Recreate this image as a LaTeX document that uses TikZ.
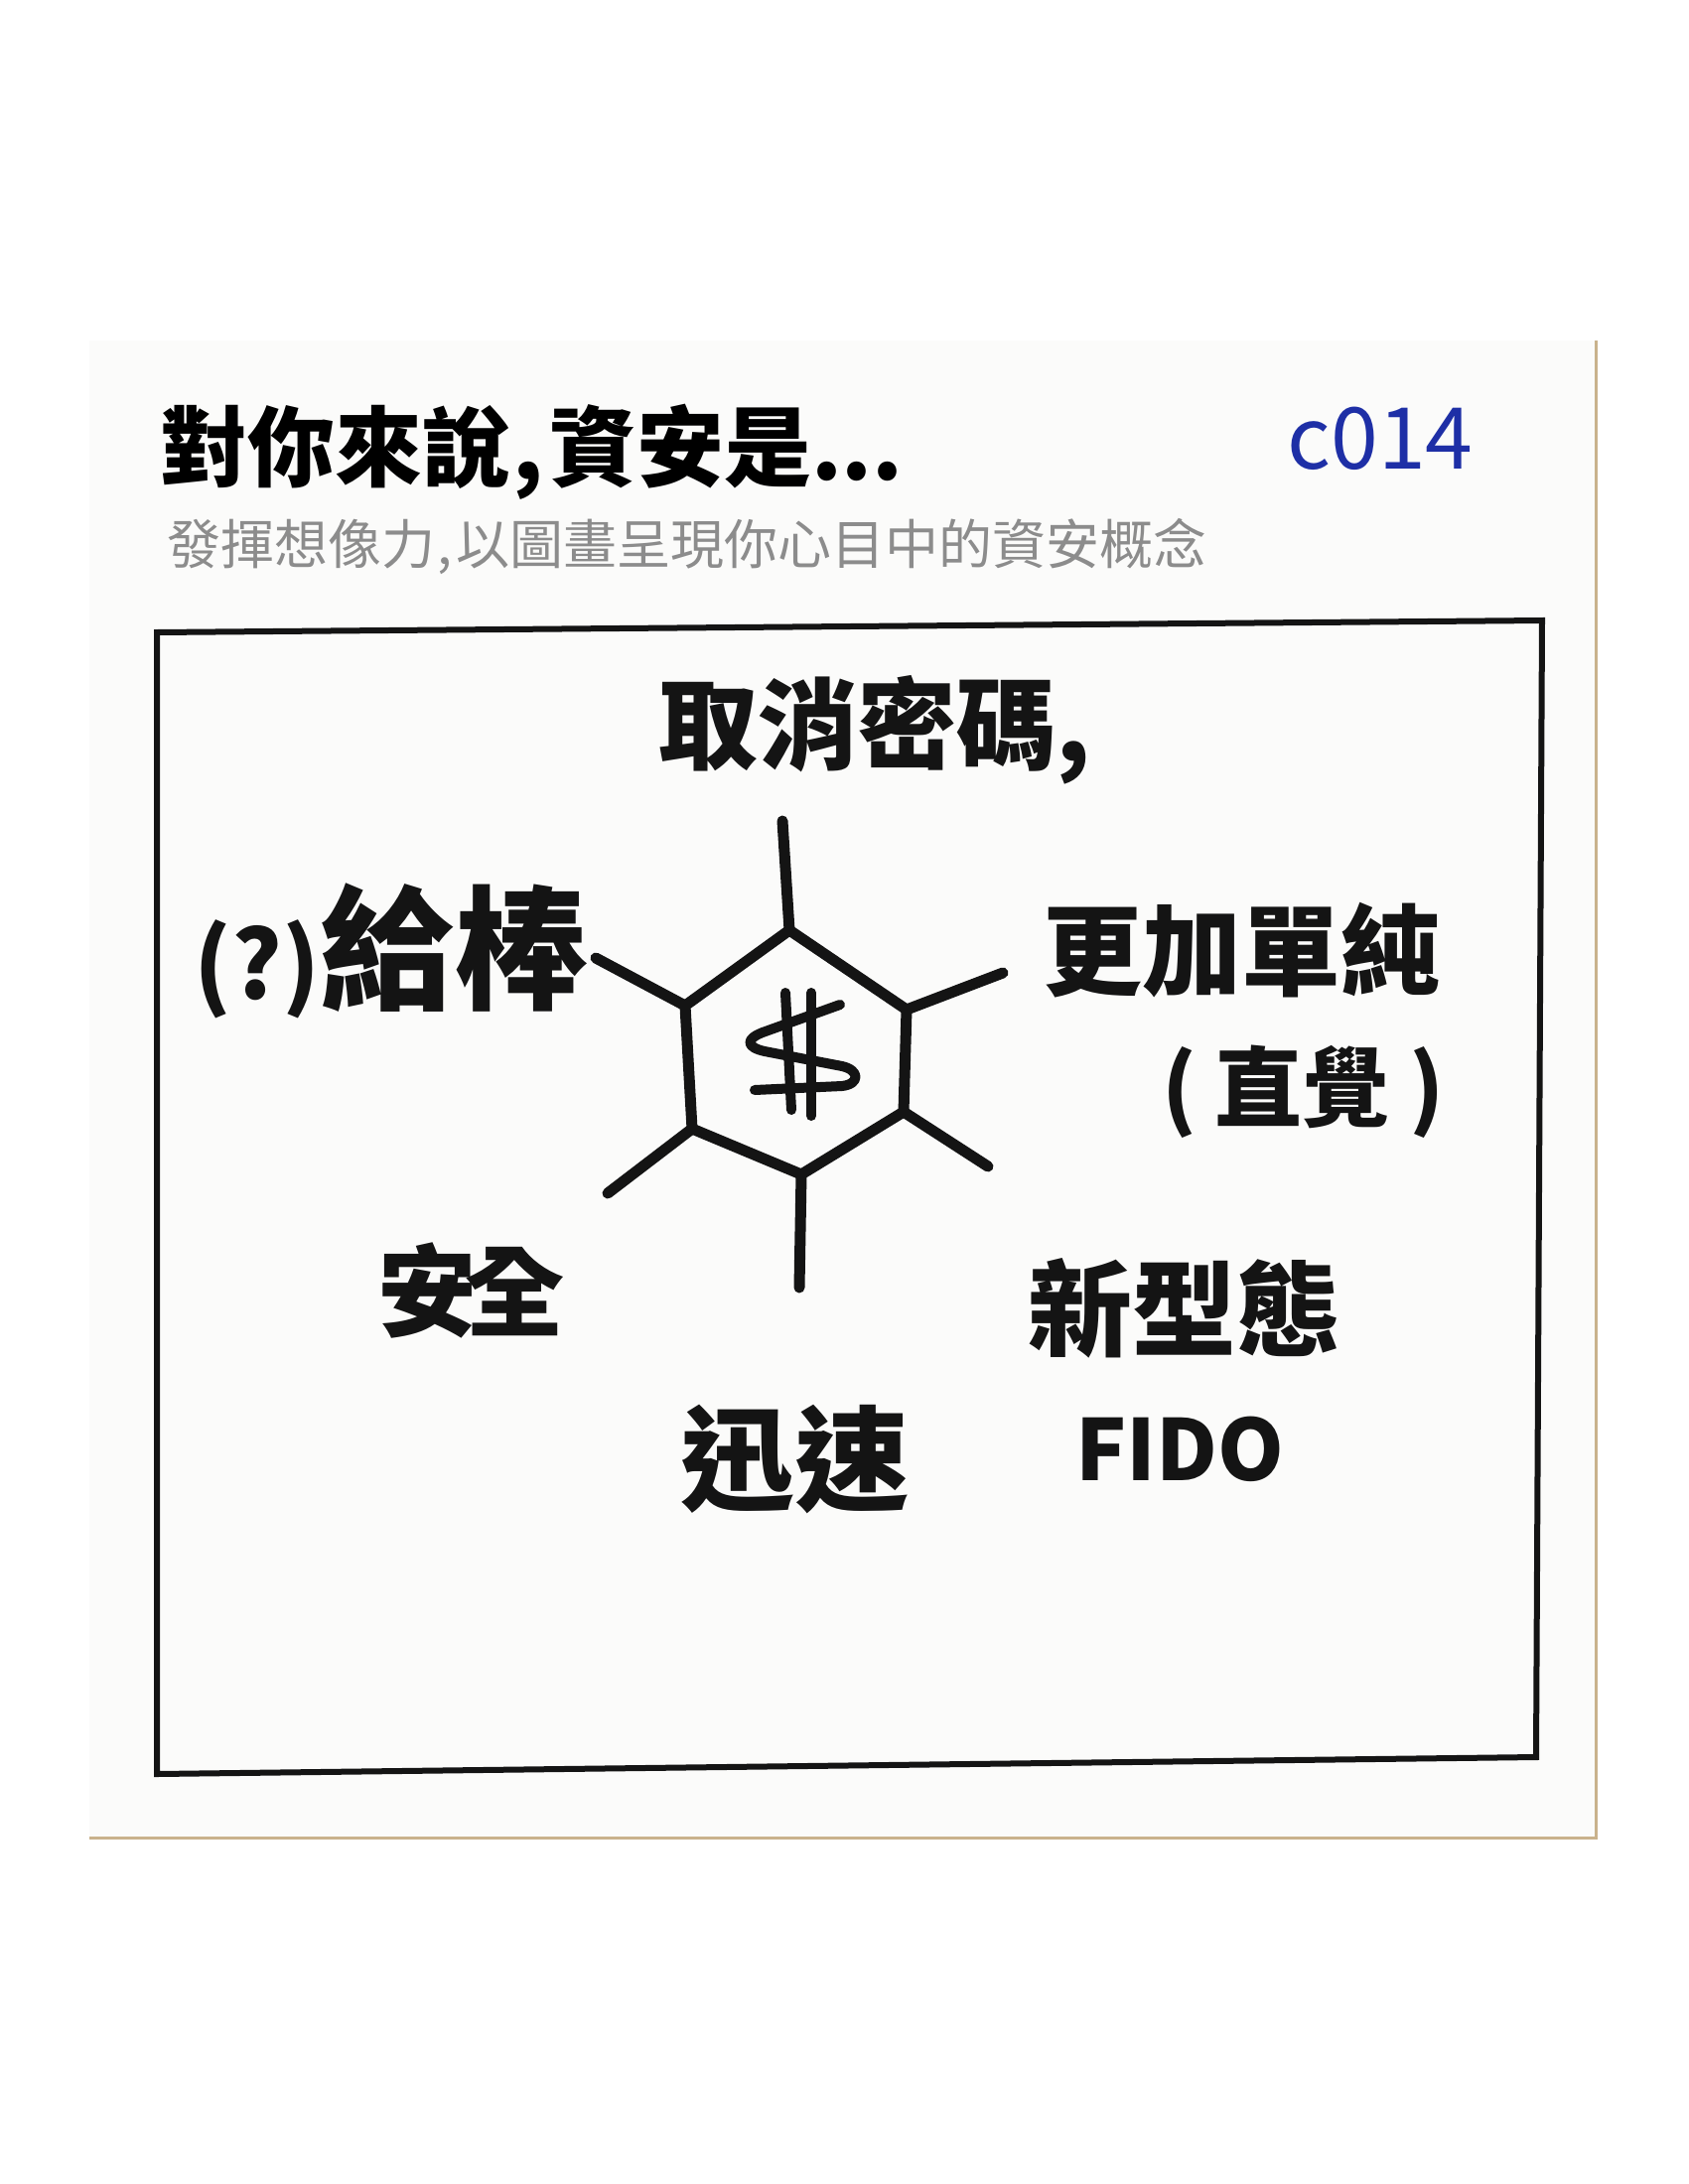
\documentclass[tikz,border=0pt]{standalone}
\usepackage{fontspec}
\newfontfamily\cjk{Noto Sans CJK TC}
\definecolor{ink}{HTML}{141414}
\definecolor{penblue}{HTML}{1E2FA6}
\definecolor{subgray}{HTML}{8C8C8C}
\definecolor{cardfill}{HTML}{FBFBFA}
\definecolor{cardedge}{HTML}{C9B28C}
\tikzset{
  hand/.style={font=\cjk\bfseries\fontsize{#1}{#1}\selectfont, text=ink, inner sep=0pt},
  pen/.style={draw=ink, line width=11pt, line cap=round, line join=round},
}
\begin{document}
\begin{tikzpicture}[x=1pt,y=-1pt]
\useasboundingbox (0,0) rectangle (1700,2200);
\fill[white] (0,0) rectangle (1700,2200);
% card
\fill[cardfill] (90,343) rectangle (1608,1852);
\draw[cardedge, line width=3pt] (1607,343) -- (1607,1851) -- (90,1851);
% frame
\draw[ink, line width=6pt, line join=miter] (158,637) -- (1553,625) -- (1547,1770) -- (158,1787) -- cycle;
% header
\node[anchor=west, font=\cjk\bfseries\fontsize{88}{88}\selectfont, text=black, inner sep=0pt] (title) at (161,455) {對你來說\kern3pt,\kern6pt資安是...};
\node[anchor=west, font=\cjk\fontsize{54}{54}\selectfont, text=subgray, inner sep=0pt] (subtitle) at (168,551) {發揮想像力\kern2pt,\kern4pt以圖畫呈現你心目中的資安概念};
\node[font=\cjk\fontsize{86}{86}\selectfont, text=penblue, inner sep=0pt] (code) at (1390,442) {c014};
% hexagon
\coordinate (h1) at (795,937);
\coordinate (h2) at (913,1017);
\coordinate (h3) at (910,1120);
\coordinate (h4) at (807,1183);
\coordinate (h5) at (697,1137);
\coordinate (h6) at (690,1013);
\coordinate (e1) at (788,827);
\coordinate (e2) at (1010,980);
\coordinate (e3) at (995,1175);
\coordinate (e4) at (805,1297);
\coordinate (e5) at (612,1202);
\coordinate (e6) at (600,965);
\draw[pen] (h1) -- (h2) -- (h3) -- (h4) -- (h5) -- (h6) -- cycle;
\draw[pen] (h1) -- (e1);
\draw[pen] (h2) -- (e2);
\draw[pen] (h3) -- (e3);
\draw[pen] (h4) -- (e4);
\draw[pen] (h5) -- (e5);
\draw[pen] (h6) -- (e6);
% dollar sign
\draw[pen, line width=10pt] (846,1012) -- (768,1040) .. controls (750,1047) and (752,1055) .. (770,1059) -- (848,1074) .. controls (866,1078) and (866,1092) .. (848,1094) -- (760,1098);
\draw[pen, line width=10pt] (791,1000) -- (797,1118);
\draw[pen, line width=10pt] (817,1000) -- (817,1124);
% labels
\node[hand=100, anchor=west] (cancel) at (663,735) {取消密碼,};
\node[hand=135, anchor=west] (give) at (195,958) {{\fontsize{95}{95}\selectfont(?)}給棒};
\node[hand=100, anchor=west] (simple) at (1050,957) {更加單純};
\node[hand=88, anchor=west] (intuit) at (1170,1100) {(\hspace{18pt}直覺\hspace{20pt})};
\node[hand=100] (safe) at (474,1300) {安\kern-12pt全};
\node[hand=115] (fast) at (800,1470) {迅速};
\node[hand=105] (newtype) at (1193,1318) {新型態};
\node[hand=85] (fido) at (1188,1460) {FIDO};
\end{tikzpicture}
\end{document}
